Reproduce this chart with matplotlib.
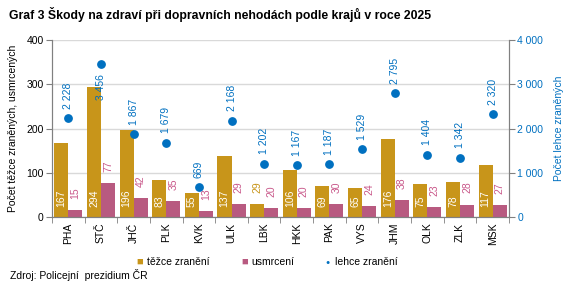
import matplotlib
matplotlib.use('Agg')
import matplotlib.pyplot as plt
import numpy as np

plt.rcParams['font.family'] = ['Liberation Sans', 'DejaVu Sans']

kraje  = ["PHA", "STČ", "JHČ", "PLK", "KVK", "ULK", "LBK", "HKK", "PAK", "VYS", "JHM", "OLK", "ZLK", "MSK"]
tezce  = [167, 294, 196, 83, 55, 137, 29, 106, 69, 65, 176, 75, 78, 117]
usmrc  = [15, 77, 42, 35, 13, 29, 20, 20, 30, 24, 38, 23, 28, 27]
lehce  = [2228, 3456, 1867, 1679, 669, 2168, 1202, 1167, 1187, 1529, 2795, 1404, 1342, 2320]

gold = '#C8951A'
pink = '#B85A80'
pinktxt = '#C9588A'
blue = '#0070C0'

def fmt(v):
    return f"{v:,}".replace(",", " ")

fig = plt.figure(figsize=(5.67, 2.84), dpi=100)
ax = fig.add_axes([0.0917, 0.236, 0.806, 0.623])
ax2 = ax.twinx()

x = np.arange(len(kraje))
w = 0.43
ax.bar(x - w/2, tezce, w, color=gold, zorder=2)
ax.bar(x + w/2, usmrc, w, color=pink, zorder=2)
ax2.scatter(x, lehce, s=28, color=blue, zorder=3)

# popisky hodnot
for i in range(len(kraje)):
    if tezce[i] > 40:
        ax.annotate(str(tezce[i]), (x[i] - w/2, 0), xytext=(0, 7), textcoords='offset points',
                    rotation=90, ha='center', va='bottom', color='white', fontsize=7.5)
    else:
        ax.annotate(str(tezce[i]), (x[i] - w/2, tezce[i]), xytext=(0, 8), textcoords='offset points',
                    rotation=90, ha='center', va='bottom', color=gold, fontsize=7.5)
    ax.annotate(str(usmrc[i]), (x[i] + w/2, usmrc[i]), xytext=(0, 8), textcoords='offset points',
                rotation=90, ha='center', va='bottom', color=pinktxt, fontsize=7.5)
    if lehce[i] > 3200:
        ax2.annotate(fmt(lehce[i]), (x[i], lehce[i]), xytext=(0, -7), textcoords='offset points',
                     rotation=90, ha='center', va='top', color=blue, fontsize=7.5)
    else:
        ax2.annotate(fmt(lehce[i]), (x[i], lehce[i]), xytext=(0, 7), textcoords='offset points',
                     rotation=90, ha='center', va='bottom', color=blue, fontsize=7.5)

ax.set_xlim(-0.5, len(kraje) - 0.5)
ax.set_ylim(0, 400)
ax2.set_ylim(0, 4000)
ax.set_yticks([0, 100, 200, 300, 400])
ax2.set_yticks([0, 1000, 2000, 3000, 4000])
ax2.set_yticklabels([fmt(v) for v in [0, 1000, 2000, 3000, 4000]])
ax.grid(axis='y', color='#D9D9D9', linewidth=1, zorder=0)
ax.set_axisbelow(True)

ax.set_xticks(x)
ax.set_xticklabels(kraje, rotation=90, fontsize=7.5)
ax.set_xticks(np.arange(len(kraje) + 1) - 0.5, minor=True)
ax.tick_params(axis='x', which='major', length=0, pad=4)
ax.tick_params(axis='x', which='minor', length=4, color='#808080')
ax.tick_params(axis='y', labelsize=7.5, length=4, color='#808080', pad=2)
ax2.tick_params(axis='y', labelsize=7.5, length=4, color='#808080', labelcolor=blue, pad=2)

for a in (ax, ax2):
    a.spines['top'].set_visible(False)
    a.spines['left'].set_color('#808080')
    a.spines['right'].set_color('#808080')
    a.spines['bottom'].set_color('#808080')

ax.set_ylabel("Počet těžce zraněných, usmrcených", fontsize=7.5, labelpad=6)
ax2.set_ylabel("Počet lehce zraněných", fontsize=7.5, color=blue, labelpad=8)

fig.text(0.016, 0.95, "Graf 3 Škody na zdraví při dopravních nehodách podle krajů v roce 2025",
         fontsize=8.8, fontweight='bold', va='center')

# legenda
fig.text(0.247, 0.077, "■", color=gold, fontsize=8, va='center', ha='center')
fig.text(0.259, 0.077, "těžce zranění", fontsize=7.5, va='center')
fig.text(0.432, 0.077, "■", color=pink, fontsize=8, va='center', ha='center')
fig.text(0.444, 0.077, "usmrcení", fontsize=7.5, va='center')
fig.text(0.578, 0.077, "●", color=blue, fontsize=5, va='center', ha='center')
fig.text(0.590, 0.077, "lehce zranění", fontsize=7.5, va='center')

fig.text(0.018, 0.032, "Zdroj: Policejní  prezidium ČR", fontsize=7.5, va='center')

fig.savefig("out.png", dpi=100)
